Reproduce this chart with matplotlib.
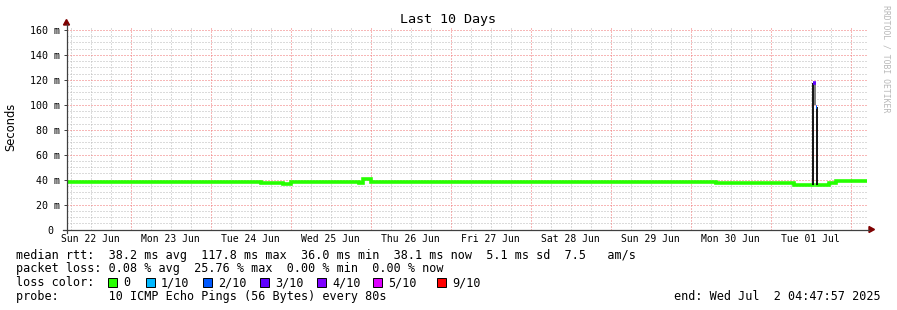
import numpy as np
import matplotlib.pyplot as plt
from matplotlib.patches import Rectangle, Polygon
from matplotlib.lines import Line2D

W, H = 897, 310
MONO = 'DejaVu Sans Mono'

# time axis in days after Mon 23 Jun 00:00
t_start, t_end = -0.8, 9.2
day_labels = ['Sun 22 Jun', 'Mon 23 Jun', 'Tue 24 Jun', 'Wed 25 Jun', 'Thu 26 Jun',
              'Fri 27 Jun', 'Sat 28 Jun', 'Sun 29 Jun', 'Mon 30 Jun', 'Tue 01 Jul']
day_label_t = [-0.5, 0.5, 1.5, 2.5, 3.5, 4.5, 5.5, 6.5, 7.5, 8.5]

# median rtt (ms) as steps: start time of each step, value, loss level
seg_t = [-0.8, 1.625, 1.9, 2.0, 2.85, 2.9, 3.0, 7.3125, 8.2875, 8.525, 8.5625, 8.58, 8.725, 8.8125]
seg_ms = [38.3, 37.0, 36.3, 38.3, 37.6, 40.8, 38.3, 37.0, 36.0, 117.8, 98.0, 36.0, 37.0, 38.5]
seg_loss = [0, 0, 0, 0, 0, 0, 0, 0, 0, 3, 2, 0, 0, 0]

# smoke around the spike
smoke_t = [8.5375, 8.5625]
smoke_lo = [100.0, 100.0]
smoke_hi = [117.0, 117.0]

loss_names = ['0', '1/10', '2/10', '3/10', '4/10', '5/10', '9/10']
loss_colors = ['#26ff00', '#00b8ff', '#0059ff', '#5e00ff', '#7e00ff', '#dd00ff', '#ff0000']

y_ticks = [0, 20, 40, 60, 80, 100, 120, 140, 160]
y_ticklabels = ['0 ', '20 m', '40 m', '60 m', '80 m', '100 m', '120 m', '140 m', '160 m']


def fx(x):
    return x / W


def fy(y):
    return 1 - y / H


fig = plt.figure(figsize=(W / 100, H / 100), dpi=100)
fig.patch.set_facecolor('white')

ax_l, ax_r, ax_top, ax_bot = 66.5, 866.5, 27, 229.5
ax = fig.add_axes([fx(ax_l), fy(ax_bot), (ax_r - ax_l) / W, (ax_bot - ax_top) / H])
ax.set_xlim(t_start, t_end)
ax.set_ylim(0, 160 * (ax_bot - ax_top) / (ax_bot - 30))
for s in ax.spines.values():
    s.set_visible(False)

# grid (dotted)
minor_col = '#b8b8b8'
major_col = '#f07070'
dot = dict(lw=0.72, ls=(0, (1, 2)))
for t in np.arange(-0.75, t_end, 0.25):
    if abs(t - round(t)) > 1e-6:
        ax.axvline(t, color=minor_col, zorder=1, **dot)
for v in np.arange(5, 165, 5):
    if v % 20:
        ax.axhline(v, color=minor_col, zorder=1, **dot)
for t in range(0, 10):
    ax.axvline(t, color=major_col, zorder=2, **dot)
for v in y_ticks[1:]:
    ax.axhline(v, color=major_col, zorder=2, **dot)

# smoke
ax.fill_between(smoke_t, smoke_lo, smoke_hi, step='post', color='#808080', lw=0, zorder=3)

# median line: green steps broken at big jumps, loss colours drawn separately
seg_end = seg_t[1:] + [t_end]
groups = []
for i in range(len(seg_ms)):
    new = i == 0 or seg_loss[i] or seg_loss[i - 1] or abs(seg_ms[i] - seg_ms[i - 1]) > 30
    if new:
        groups.append([])
    groups[-1].append(i)
for g in groups:
    if seg_loss[g[0]]:
        ax.hlines(seg_ms[g[0]], seg_t[g[0]], seg_end[g[0]], colors=loss_colors[seg_loss[g[0]]],
                  lw=2.6, zorder=6)
    else:
        xs = [seg_t[i] for i in g] + [seg_end[g[-1]]]
        ys = [seg_ms[i] for i in g] + [seg_ms[g[-1]]]
        ax.step(xs, ys, where='post', color=loss_colors[0], lw=2.6, solid_joinstyle='miter', zorder=4)
for i in range(1, len(seg_ms)):
    a, b = seg_ms[i - 1], seg_ms[i]
    if abs(a - b) > 30:
        ax.vlines(seg_t[i], min(a, b), max(a, b), colors='black', lw=1.3, zorder=5)

ax.set_xticks(day_label_t)
ax.set_xticklabels(day_labels, family=MONO, fontsize=7)
ax.tick_params(axis='x', length=0, pad=3.5)
ax.set_yticks(y_ticks)
ax.set_yticklabels(y_ticklabels, family=MONO, fontsize=7.2)
ax.tick_params(axis='y', length=2.5, width=0.7, color='#404040', pad=2.3)

# axis lines and arrows
axis_col = '#404040'
arrow_col = '#7f0000'
fig.add_artist(Line2D([fx(ax_l), fx(ax_l)], [fy(233), fy(24)], color=axis_col, lw=0.9))
fig.add_artist(Line2D([fx(63), fx(869)], [fy(ax_bot), fy(ax_bot)], color=axis_col, lw=0.9))
fig.add_artist(Polygon([[fx(ax_l - 3), fy(25)], [fx(ax_l + 3), fy(25)], [fx(ax_l), fy(19.5)]],
                       closed=True, color=arrow_col))
fig.add_artist(Polygon([[fx(869), fy(ax_bot - 3)], [fx(869), fy(ax_bot + 3)], [fx(874.5), fy(ax_bot)]],
                       closed=True, color=arrow_col))

fig.text(fx(448), fy(20), 'Last 10 Days', ha='center', va='center', family=MONO, fontsize=9.6)
fig.text(fx(11), fy(127), 'Seconds', rotation=90, ha='center', va='center', fontsize=8.3)
fig.text(fx(886), fy(59), 'RRDTOOL / TOBI OETIKER', rotation=-90, ha='center', va='center',
         family=MONO, fontsize=5.9, color='#b8b8b8')

# legend
fs = 8.5
fig.text(fx(16), fy(255), 'median rtt:  38.2 ms avg  117.8 ms max  36.0 ms min  38.1 ms now  5.1 ms sd  7.5   am/s',
         va='center', family=MONO, fontsize=fs)
fig.text(fx(16), fy(268.5), 'packet loss: 0.08 % avg  25.76 % max  0.00 % min  0.00 % now',
         va='center', family=MONO, fontsize=fs)
fig.text(fx(16), fy(282.5), 'loss color:', va='center', family=MONO, fontsize=fs)
sw_x = [108, 146, 203, 260, 317, 373, 437]
for x, name, col in zip(sw_x, loss_names, loss_colors):
    fig.add_artist(Rectangle((fx(x), fy(287)), 9 / W, 9 / H, facecolor=col, edgecolor='black', lw=0.7))
    fig.text(fx(x + 15), fy(282.5), name, va='center', family=MONO, fontsize=fs)
fig.text(fx(16), fy(296.5), 'probe:       10 ICMP Echo Pings (56 Bytes) every 80s',
         va='center', family=MONO, fontsize=fs)
fig.text(fx(881), fy(296.5), 'end: Wed Jul  2 04:47:57 2025', ha='right', va='center',
         family=MONO, fontsize=fs)

fig.savefig('out.png', dpi=100)
